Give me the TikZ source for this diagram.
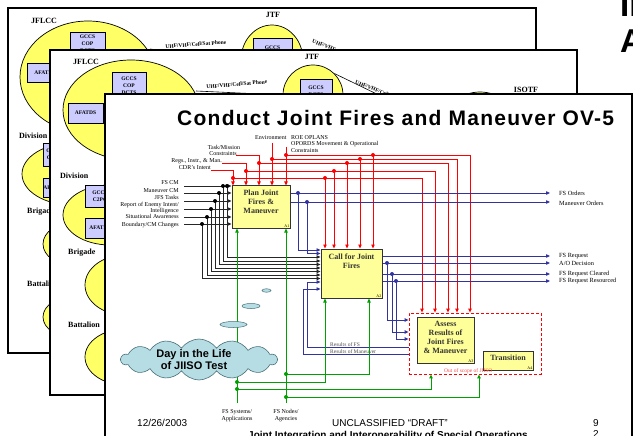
\documentclass[tikz,border=0pt]{standalone}
\usepackage{fontspec}
\setmainfont{Liberation Serif}
\setsansfont{Liberation Sans}
\newfontfamily\titlefont[LetterSpace=6]{Liberation Sans}
\usetikzlibrary{arrows.meta,shapes.symbols,shapes.geometric}
\definecolor{ylw}{RGB}{255,255,102}
\definecolor{boxy}{RGB}{255,255,153}
\definecolor{lav}{RGB}{204,204,255}
\definecolor{bl}{RGB}{51,51,160}
\definecolor{gr}{RGB}{0,160,0}
\definecolor{rd}{RGB}{255,0,0}
\definecolor{cloudf}{RGB}{183,221,228}
\definecolor{cloudd}{RGB}{70,110,120}
\newcommand{\fs}[2]{\fontsize{#1}{#2}\selectfont}
\begin{document}
\begin{tikzpicture}[x=1pt,y=-1pt,
  slide/.style={draw=black,line width=2.2pt,fill=white},
  ell/.style={ellipse,draw=black,fill=ylw,line width=0.7pt,inner sep=0},
  lbox/.style={draw=black,fill=lav,line width=0.7pt,inner sep=0,align=center,font=\bfseries\fs{5.5}{7}},
  olab/.style={font=\bfseries\fs{8}{9},inner sep=0},
  fbox/.style={draw=black!80,fill=boxy,line width=1pt,inner sep=0},
  btxt/.style={font=\bfseries\fs{8}{9},text=black!80,align=center,inner sep=0},
  anum/.style={font=\fs{4}{4},inner sep=1pt,anchor=south east},
  lab/.style={font=\fs{6}{6.5},inner sep=0},
  olbl/.style={font=\fs{6.3}{7},inner sep=0,anchor=west},
  uhf/.style={font=\bfseries\fs{5.5}{6},inner sep=0.5pt},
  arw/.style={-{Triangle[length=4pt,width=3.4pt]}},
  rl/.style={draw=rd,line width=0.9pt,arw},
  kl/.style={draw=black!85,line width=0.9pt,arw},
  bll/.style={draw=bl,line width=0.9pt,arw},
  gl/.style={draw=gr,line width=0.9pt,arw},
  bub/.style={ellipse,draw=cloudd,fill=cloudf,line width=0.5pt,inner sep=0},
]
\useasboundingbox (0,0) rectangle (633,436);
\clip (0,0) rectangle (633,436);
\fill[white] (0,0) rectangle (633,436);

% title fragments of the page behind
\node[font=\sffamily\bfseries\fs{33}{34},anchor=base west,inner sep=0] (bgt1) at (620,17) {In};
\node[font=\sffamily\bfseries\fs{33}{34},anchor=base west,inner sep=0] (bgt2) at (620,53) {As};

% ---------- slide 1 ----------
\draw[slide] (8,8) rectangle (536,353);
\node[olab,anchor=west] (s1jf) at (31,21) {JFLCC};
\node[ell,minimum width=136,minimum height=112] (s1e) at (88,77) {};
\node[lbox,minimum width=35,minimum height=24] (s1b1) at (87.5,44) {GCCS\\COP\\DCTS};
\node[lbox,minimum width=36,minimum height=19] (s1b2) at (45,72.5) {AFATDS};
\node[olab] (s1jtfl) at (273,15) {JTF};
\node[ell,minimum width=62,minimum height=70] (s1jtf) at (272,60) {};
\node[lbox,minimum width=39,minimum height=26] (s1b3) at (272.5,51) {GCCS\\DCTS};
\coordinate (s1a) at (150,49);
\draw[line width=0.6pt] (s1a) -- (s1jtf.west);
\node[uhf,rotate=4,anchor=south] (s1u1) at (196,47) {UHF/VHF/Cell/Sat Phone};
\coordinate (s1x) at (330,58);
\draw[line width=0.6pt] (s1jtf.east) -- (s1x);
\node[uhf,rotate=-22,anchor=south west] (s1u2) at (311,43) {UHF/VHF};
\node[olab] (s1is) at (485,53) {ISOTF};
\node[olab,anchor=west] (s1dv) at (19,136) {Division};
\node[ell,minimum width=100,minimum height=62] (s1de) at (72,174) {};
\node[lbox,minimum width=22,minimum height=23] (s1b4) at (54,154.5) {GCCS\\C2PC};
\node[lbox,minimum width=22,minimum height=19] (s1b5) at (54,187.5) {AFATDS};
\node[olab,anchor=west] (s1bg) at (27,212) {Brigade};
\node[ell,minimum width=64,minimum height=44] (s1be) at (75,244) {};
\node[olab,anchor=west] (s1bt) at (27,284) {Battalion};
\node[ell,minimum width=64,minimum height=42] (s1te) at (75,317) {};

% ---------- slide 2 ----------
\draw[slide] (50,50) rectangle (577,395);
\node[olab,anchor=west] (s2jf) at (73,62) {JFLCC};
\node[ell,minimum width=136,minimum height=100] (s2e) at (131,110) {};
\node[lbox,minimum width=34,minimum height=28] (s2b1) at (129,86) {GCCS\\COP\\DCTS};
\node[lbox,minimum width=35,minimum height=20] (s2b2) at (85.5,113) {AFATDS};
\node[olab] (s2jtfl) at (312,57) {JTF};
\node[ell,minimum width=60,minimum height=60] (s2jtf) at (313,95) {};
\node[lbox,minimum width=32,minimum height=24] (s2b3) at (316,91) {GCCS\\DCTS};
\coordinate (s2a) at (196,91);
\draw[line width=0.6pt] (s2a) -- (s2jtf.west);
\node[uhf,rotate=5,anchor=south] (s2u1) at (237,87) {UHF/VHF/Cell/Sat Phone};
\coordinate (s2x) at (385,98);
\draw[line width=0.6pt] (s2jtf.north east) -- (s2x);
\node[uhf,rotate=-22,anchor=south west] (s2u2) at (354,84) {UHF/VHF/Cell/Sat Phone};
\node[olab] (s2is) at (526,90) {ISOTF};
\node[ell,minimum width=70,minimum height=60] (s2ie) at (480,122) {};
\node[olab,anchor=west] (s2dv) at (60,176) {Division};
\node[ell,minimum width=94,minimum height=60] (s2de) at (110,215) {};
\node[lbox,minimum width=30,minimum height=22] (s2b4) at (100,196) {GCCS\\C2PC};
\node[lbox,minimum width=30,minimum height=20] (s2b5) at (100,228) {AFATDS};
\node[olab,anchor=west] (s2bg) at (68,253) {Brigade};
\node[ell,minimum width=80,minimum height=60] (s2be) at (125,285) {};
\node[olab,anchor=west] (s2bt) at (68,325) {Battalion};
\node[ell,minimum width=80,minimum height=56] (s2te) at (125,357) {};

% ---------- slide 3 ----------
\draw[slide] (105,94) rectangle (632,450);
\node[font=\titlefont\bfseries\fs{21}{22},anchor=base west,inner sep=0] (title) at (177,126) {Conduct Joint Fires and Maneuver OV-5};

% activity boxes
\node[fbox,minimum width=58,minimum height=42] (P) at (261,207) {};
\node[fbox,minimum width=61,minimum height=49] (C) at (351.5,273.5) {};
\node[draw=rd,dashed,dash pattern=on 3pt off 2pt,line width=0.8pt,minimum width=132,minimum height=61,inner sep=0] (D) at (475,343.5) {};
\node[fbox,minimum width=57,minimum height=46] (A) at (445.5,340) {};
\node[fbox,minimum width=50,minimum height=19] (T) at (508,360.5) {};
\node[btxt] (Pt) at (261,202) {Plan Joint\\Fires \&\\Maneuver};
\node[btxt] (Ct) at (351.5,261.5) {Call for Joint\\Fires};
\node[btxt] (At) at (445.5,337.5) {Assess\\Results of\\Joint Fires\\\& Maneuver};
\node[btxt] (Tt) at (508,358) {Transition};
\node[anum] (Pn) at (P.south east) {A1};
\node[anum] (Cn) at (C.south east) {A2};
\node[anum] (An) at (A.south east) {A3};
\node[anum] (Tn) at (T.south east) {A4};
\node[font=\fs{5.5}{6},text=rd!70,anchor=base west,inner sep=0] (oos) at (444,372) {Out of scope of JIISO};

% controls (red)
\node[lab,anchor=base west] (cenv) at (255,140) {Environment};
\node[lab,anchor=base west] (croe1) at (291,140) {ROE OPLANS};
\node[lab,anchor=base west] (croe2) at (291,146) {OPORDS Movement \& Operational};
\node[lab,anchor=base west] (croe3) at (291,152.5) {Constraints};
\node[lab,anchor=base] (ctm1) at (224,149.5) {Task/Mission};
\node[lab,anchor=base] (ctm2) at (223,155.5) {Constraints};
\node[lab,anchor=base east] (creg) at (222,163) {Regs., Instr., \& Man.};
\node[lab,anchor=base east] (ccdr) at (211,170) {CDR's Intent};

\draw[rl] (211,170) -| (233,0 |- P.north);
\draw[rl] (233,178) -| (325,0 |- C.north);
\draw[rl] (325,178) -| (422,0 |- D.north);
\draw[rl] (222,163) -| (246,0 |- P.north);
\draw[rl] (246,171) -| (334,0 |- C.north);
\draw[rl] (334,171) -| (435,0 |- D.north);
\draw[rl] (236,155) -| (259,0 |- P.north);
\draw[rl] (259,163) -| (347,0 |- C.north);
\draw[rl] (347,163) -| (448,0 |- D.north);
\draw[rl] (272,143) -- (272,0 |- P.north);
\draw[rl] (272,159) -| (360,0 |- C.north);
\draw[rl] (360,159) -| (457,0 |- D.north);
\draw[rl] (286,147) -- (286,0 |- P.north);
\draw[rl] (286,155) -| (373,0 |- C.north);
\draw[rl] (373,155) -| (470,0 |- D.north);
\foreach \p in {(233,178),(325,178),(246,171),(334,171),(259,163),(347,163),(272,159),(360,159),(286,155),(373,155)}
  \fill[rd] \p circle (2);

% inputs (black)
\node[lab,anchor=base east] (i1) at (179,184.5) {FS CM};
\node[lab,anchor=base east] (i2) at (179,192.5) {Maneuver CM};
\node[lab,anchor=base east] (i3) at (179,199.5) {JFS Tasks};
\node[lab,anchor=base east] (i4a) at (179,206) {Report of Enemy Intent/};
\node[lab,anchor=base east] (i4b) at (179,212) {Intelligence};
\node[lab,anchor=base east] (i5) at (179,218.5) {Situational Awareness};
\node[lab,anchor=base east] (i6) at (179,226) {Boundary/CM Changes};
\foreach \yy in {186,193,201,209,217,224}
  \draw[kl] (184,\yy) -- (P.west |- 0,\yy);
\draw[kl] (227,186) |- (C.west |- 0,257);
\draw[kl] (223,186) |- (C.west |- 0,261);
\draw[kl] (219,193) |- (C.west |- 0,264.5);
\draw[kl] (215,201) |- (C.west |- 0,268);
\draw[kl] (211,209) |- (C.west |- 0,271.5);
\draw[kl] (207,217) |- (C.west |- 0,275);
\draw[kl] (202,224) |- (C.west |- 0,278.5);
\foreach \p in {(227,186),(223,186),(219,193),(215,201),(211,209),(207,217),(202,224)}
  \fill[black] \p circle (2);

% outputs (blue)
\draw[bll] (P.east |- 0,193) -- (550,193);
\draw[bll] (P.east |- 0,202) -- (550,202);
\draw[bll] (298,193) |- (C.west |- 0,250);
\draw[bll] (307,202) |- (C.west |- 0,253.5);
\node[olbl] (o1) at (559,193) {FS Orders};
\node[olbl] (o2) at (559,203) {Maneuver Orders};
\draw[bll] (C.east |- 0,256) -- (550,256);
\draw[bll] (C.east |- 0,263) -- (550,263);
\draw[bll] (C.east |- 0,274) -- (550,274);
\draw[bll] (C.east |- 0,281) -- (550,281);
\node[olbl] (o3) at (559,256) {FS Request};
\node[olbl] (o4) at (559,263.5) {A/O Decision};
\node[olbl] (o5) at (559,273.5) {FS Request Cleared};
\node[olbl] (o6) at (559,281) {FS Request Resourced};
\draw[bll] (387,263) |- (D.west |- 0,320);
\draw[bll] (392,274) |- (D.west |- 0,332);
\draw[bll] (396,281) |- (D.west |- 0,339);
\draw[bll] (D.west |- 0,347) -| (307,282) -- (C.west |- 0,282);
\draw[bll] (D.west |- 0,354) -| (303,289) -- (C.west |- 0,289);
\node[font=\fs{5.5}{6},text=black!70,anchor=base west,inner sep=0] (r1) at (330,346) {Results of FS};
\node[font=\fs{5.5}{6},text=black!70,anchor=base west,inner sep=0] (r2) at (330,353) {Results of Maneuver};
\foreach \p in {(298,193),(307,202),(387,263),(392,274),(396,281)}
  \fill[bl] \p circle (2);

% mechanisms (green)
\draw[gl] (237,403) -- (237,0 |- P.south);
\draw[gl] (286,403) -- (286,0 |- P.south);
\draw[gl] (286,374) -| (369,0 |- C.south);
\draw[gl] (237,382) -| (325,0 |- C.south);
\draw[gl] (237,389) -| (431,0 |- D.south);
\draw[gl] (286,397) -| (479,0 |- D.south);
\foreach \p in {(286,374),(237,382),(237,389),(286,397)}
  \fill[gr] \p circle (2);
\node[lab,anchor=base] (m1a) at (237,413) {FS Systems/};
\node[lab,anchor=base] (m1b) at (237,420) {Applications};
\node[lab,anchor=base] (m2a) at (286,413) {FS Nodes/};
\node[lab,anchor=base] (m2b) at (286,420) {Agencies};

% thought cloud
\node[bub,minimum width=27,minimum height=6] (bb1) at (233.5,324.5) {};
\node[bub,minimum width=18,minimum height=5] (bb2) at (251,306) {};
\node[bub,minimum width=9,minimum height=3.5] (bb3) at (266.5,290.5) {};
\node[cloud,cloud puffs=14,cloud puff arc=110,cloud ignores aspect,draw=cloudd,fill=cloudf,line width=0.6pt,minimum width=156,minimum height=41,inner sep=0] (cl) at (199,359.5) {};
\node[font=\sffamily\bfseries\fs{11}{12},align=center,inner sep=0] (clt) at (194,360) {Day in the Life\\of JIISO Test};

% footer
\node[font=\sffamily\fs{10}{11},anchor=base west,inner sep=0] (f1) at (137,426.5) {12/26/2003};
\node[font=\sffamily\fs{10}{11},anchor=base west,inner sep=0] (f2) at (332,426.5) {UNCLASSIFIED “DRAFT”};
\node[font=\sffamily\fs{10}{11},anchor=base west,inner sep=0] (f3) at (593,426.5) {9};
\node[font=\sffamily\fs{10}{11},anchor=base west,inner sep=0] (f4) at (593,437) {2};
\node[font=\sffamily\bfseries\fs{10}{11},anchor=base west,inner sep=0] (f5) at (248,438) {Joint Integration and Interoperability of Special Operations};
\end{tikzpicture}
\end{document}
